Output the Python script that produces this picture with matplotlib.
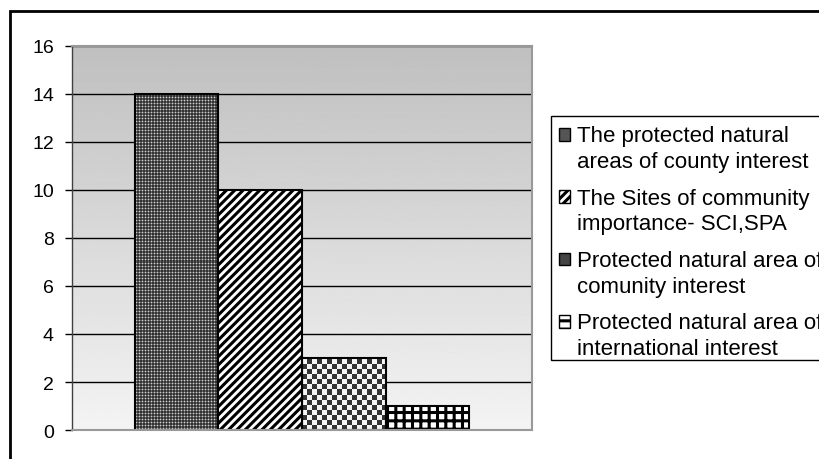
import numpy as np
import matplotlib
matplotlib.use("Agg")
import matplotlib.pyplot as plt
from matplotlib.patches import Rectangle, Patch

# data
categories = [
    "The protected natural\nareas of county interest",
    "The Sites of community\nimportance- SCI,SPA",
    "Protected natural area of\ncomunity interest",
    "Protected natural area of\ninternational interest",
]
values = [14, 10, 3, 1]
y_ticks = [0, 2, 4, 6, 8, 10, 12, 14, 16]

plt.rcParams["font.family"] = ["Liberation Sans", "DejaVu Sans"]
plt.rcParams["hatch.linewidth"] = 2.2

fig = plt.figure(figsize=(8.2, 4.6), dpi=100)
ax = fig.add_axes([0.0878, 0.063, 0.561, 0.835])

n = len(values)
positions = np.arange(n) - (n - 1) / 2
xlim = (-2.75, 2.75)
ylim = (0, 16)

# grey gradient background of the plot area
grad = np.linspace(0.955, 0.75, 256)[:, None]
ax.imshow(grad, extent=[xlim[0], xlim[1], ylim[0], ylim[1]], origin="lower",
          aspect="auto", cmap="gray", vmin=0, vmax=1, zorder=0)

faces = ["#555555", "white", "white", "white"]
hatches = [None, "////", None, "++"]
bars = ax.bar(positions, values, width=1.0, color=faces, edgecolor="black",
              linewidth=1.5, zorder=2)
for b, h in zip(bars, hatches):
    if h:
        b.set_hatch(h)

ax.set_xlim(*xlim)
ax.set_ylim(*ylim)


# pixel textures for the dotted and checkered bars
def add_texture(bar, kind):
    bb = bar.get_window_extent()
    w, h = max(int(round(bb.width)), 1), max(int(round(bb.height)), 1)
    yy, xx = np.mgrid[0:h, 0:w]
    if kind == "dots":
        img = np.full((h, w), 0.2)
        img[(xx % 3 == 1) | (yy % 3 == 1)] = 0.4
        img[(xx % 3 == 1) & (yy % 3 == 1)] = 0.8
    else:
        img = np.where(((xx // 5) + (yy // 5)) % 2 == 0, 0.2, 0.96)
    x0 = bar.get_x()
    im = ax.imshow(img, extent=[x0, x0 + bar.get_width(), 0, bar.get_height()],
                   origin="lower", aspect="auto", cmap="gray", vmin=0, vmax=1,
                   interpolation="nearest", zorder=1.5)
    im.set_clip_path(bar)
    bar.set_facecolor("none")


add_texture(bars[0], "dots")
add_texture(bars[2], "checks")
ax.set_xlim(*xlim)
ax.set_ylim(*ylim)

ax.set_yticks(y_ticks)
ax.set_xticks([])
ax.tick_params(axis="y", direction="out", length=5, width=1, pad=8,
               labelsize=14, colors="black")
ax.yaxis.grid(True, color="black", linewidth=1)
ax.set_axisbelow(True)
for gl in ax.get_ygridlines():
    gl.set_zorder(1)

ax.spines["left"].set_color("#404040")
ax.spines["left"].set_linewidth(1)
for s in ["top", "right", "bottom"]:
    ax.spines[s].set_color("#999999")
    ax.spines[s].set_linewidth(1.5)

handles = [
    Patch(facecolor="#555555", edgecolor="black"),
    Patch(facecolor="white", edgecolor="black", hatch="////"),
    Patch(facecolor="#444444", edgecolor="black"),
    Patch(facecolor="white", edgecolor="black", hatch="--"),
]
leg = fig.legend(handles, categories, loc="upper left",
                 bbox_to_anchor=(0.673, 0.74), bbox_transform=fig.transFigure,
                 borderaxespad=0, fontsize=16, frameon=False,
                 handlelength=0.5, handleheight=0.5, handletextpad=0.35,
                 labelspacing=0.7, borderpad=0.3)
for t in leg.get_texts():
    t.set_linespacing(1.3)
for p in leg.get_patches():
    p.set_y(p.get_y() + 16 * 0.65)

# legend box runs off the right edge, as in the reference
legbox = Rectangle((551 / 820, 1 - 361 / 460), 0.5, (361 - 117) / 460,
                   transform=fig.transFigure, facecolor="white",
                   edgecolor="black", linewidth=1, zorder=0)
fig.add_artist(legbox)

# outer border of the chart object
border = Rectangle((10 / 820, -0.2), 1.2, 1.2 - 12 / 460, transform=fig.transFigure,
                   fill=False, edgecolor="black", linewidth=2)
fig.add_artist(border)

fig.savefig("out.png", dpi=100)
